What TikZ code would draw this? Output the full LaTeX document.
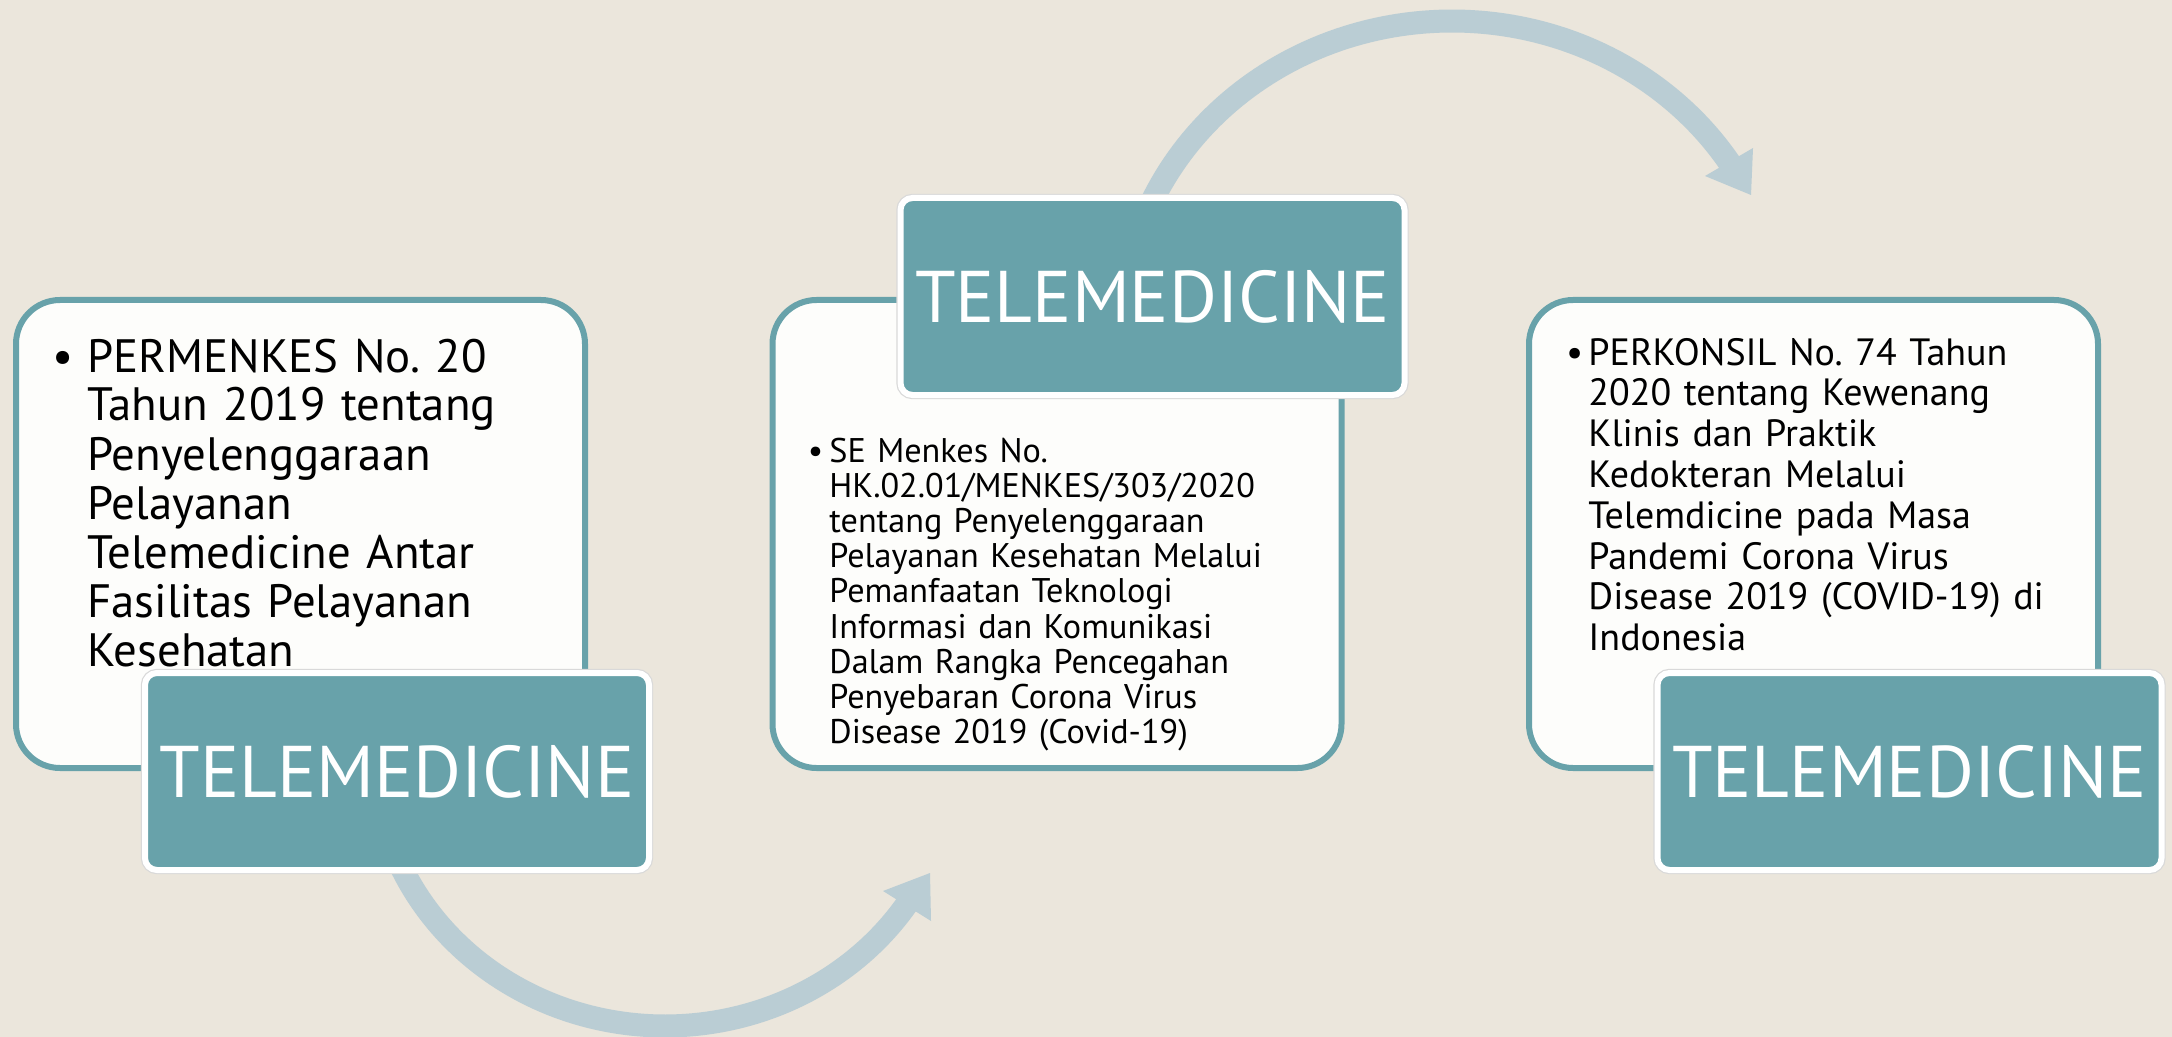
\documentclass[tikz,border=0pt]{standalone}
\usepackage{fontspec}
\setmainfont{PT Sans}
\frenchspacing
\definecolor{bgc}{HTML}{EBE6DC}
\definecolor{tealc}{HTML}{68A2AA}
\definecolor{arrc}{HTML}{BACDD4}
\definecolor{boxfill}{HTML}{FDFDFB}
\begin{document}
\begin{tikzpicture}[x=0.5pt,y=-0.5pt,
  card/.style={draw=tealc, line width=3pt, fill=boxfill, rounded corners=22pt,
    minimum width=284.5pt, minimum height=234pt, inner sep=0pt},
  tag/.style={fill=tealc, draw=white, line width=3pt, rounded corners=6pt,
    minimum width=252pt, minimum height=98.5pt, inner sep=0pt,
    preaction={draw=black!15, line width=4.2pt},
    text=white, font=\fontsize{36.6}{40}\selectfont},
  flow/.style={draw=arrc, line width=11.5pt},
  head/.style={fill=arrc},
  item/.style={anchor=base west, inner sep=0pt, align=left, text width=320pt}
]
\useasboundingbox[fill=bgc] (0,0) rectangle (2172,1037);

% curved arrows
\draw[flow] plot[domain=156:33.5, samples=90] ({665+290*cos(\x)},{754+272*sin(\x)});
\coordinate (h1) at (930,873);
\fill[head] (883,891) -- (h1) -- (931,921) -- cycle;
\draw[flow] plot[domain=204:327.5, samples=90] ({1452+330*cos(\x)},{330+309*sin(\x)});
\coordinate (h2) at (1751,195);
\fill[head] (1705,176) -- (h2) -- (1753,148) -- cycle;

% white cards
\node[card] (c1) at (300.5,534) {};
\node[card] (c2) at (1057,534) {};
\node[card] (c3) at (1813.5,534) {};

% list texts
\node[item, font=\fontsize{23.4}{24.5}\selectfont] (t1) at (87,372)
 {\llap{\textbullet\hspace{7pt}}PERMENKES No. 20\\Tahun 2019 tentang\\Penyelenggaraan\\Pelayanan\\Telemedicine Antar\\Fasilitas Pelayanan\\Kesehatan};
\node[item, font=\fontsize{17.1}{17.6}\selectfont] (t2) at (829,462)
 {\llap{\textbullet\hspace{3pt}}SE Menkes No.\\HK.02.01/MENKES/303/2020\\tentang Penyelenggaraan\\Pelayanan Kesehatan Melalui\\Pemanfaatan Teknologi\\Informasi dan Komunikasi\\Dalam Rangka Pencegahan\\Penyebaran Corona Virus\\Disease 2019 (Covid-19)};
\node[item, font=\fontsize{19}{20.4}\selectfont] (t3) at (1588,365)
 {\llap{\textbullet\hspace{2.5pt}}PERKONSIL No. 74 Tahun\\2020 tentang Kewenang\\Klinis dan Praktik\\Kedokteran Melalui\\Telemdicine pada Masa\\Pandemi Corona Virus\\Disease 2019 (COVID-19) di\\Indonesia};

% teal tags
\node[tag] (g1) at (397,771.5) {TELEMEDICINE};
\node[tag] (g2) at (1152.5,296.5) {TELEMEDICINE};
\node[tag] (g3) at (1909.5,771.5) {TELEMEDICINE};
\end{tikzpicture}
\end{document}
